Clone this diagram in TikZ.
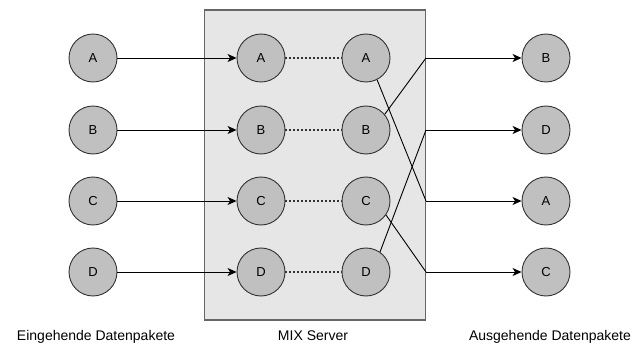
\documentclass[tikz,border=0pt]{standalone}
\usepackage{fontspec}
\setmainfont{Liberation Sans}
\usetikzlibrary{arrows.meta}
\definecolor{boxfill}{HTML}{E6E6E6}
\definecolor{boxline}{HTML}{666666}
\definecolor{pktfill}{HTML}{C0C0C0}
\definecolor{pktline}{HTML}{333333}
\tikzset{
  pkt/.style={circle, draw=pktline, fill=pktfill, line width=0.9pt, minimum size=48pt, inner sep=0pt, font=\fontsize{13}{15}\selectfont},
  flow/.style={line width=0.9pt, -{Stealth[length=9pt,width=8pt,inset=2.5pt]}},
  wire/.style={line width=0.9pt},
  link/.style={line width=2pt, dotted, draw=pktline},
  caption/.style={font=\fontsize{14}{16}\selectfont, inner sep=0pt, anchor=base}
}
\begin{document}
\begin{tikzpicture}[x=1pt, y=-1pt]
\useasboundingbox (0,0) rectangle (633,345);
% mix server box
\node[draw=boxline, fill=boxfill, line width=1.2pt, minimum width=221pt, minimum height=310pt, inner sep=0pt] (mix) at (315,165) {};
% packets
\foreach \l/\y in {A/58, B/130, C/201, D/272} {
  \node[pkt] (in\l) at (93,\y) {\l};
  \node[pkt] (mi\l) at (261,\y) {\l};
  \node[pkt] (mo\l) at (366,\y) {\l};
  \draw[flow] (in\l) -- (mi\l);
  \draw[link] (mi\l) -- (mo\l);
}
\node[pkt] (outB) at (546,58) {B};
\node[pkt] (outD) at (546,130) {D};
\node[pkt] (outA) at (546,201) {A};
\node[pkt] (outC) at (546,272) {C};
% junctions on the box edge
\coordinate (j1) at (426,58);
\coordinate (j2) at (426,130);
\coordinate (j3) at (426,201);
\coordinate (j4) at (426,272);
% permutation
\draw[wire] (moA.-63) -- (j3);
\draw[wire] (moB.40) -- (j1);
\draw[wire] (moD.55) -- (j2);
\draw[wire] (moC.-35) -- (j4);
\draw[flow] (j1) -- (outB);
\draw[flow] (j2) -- (outD);
\draw[flow] (j3) -- (outA);
\draw[flow] (j4) -- (outC);
% captions
\node[caption] (capIn) at (96,340) {Eingehende Datenpakete};
\node[caption] (capMix) at (313,340) {MIX Server};
\node[caption] (capOut) at (550,340) {Ausgehende Datenpakete};
\end{tikzpicture}
\end{document}
